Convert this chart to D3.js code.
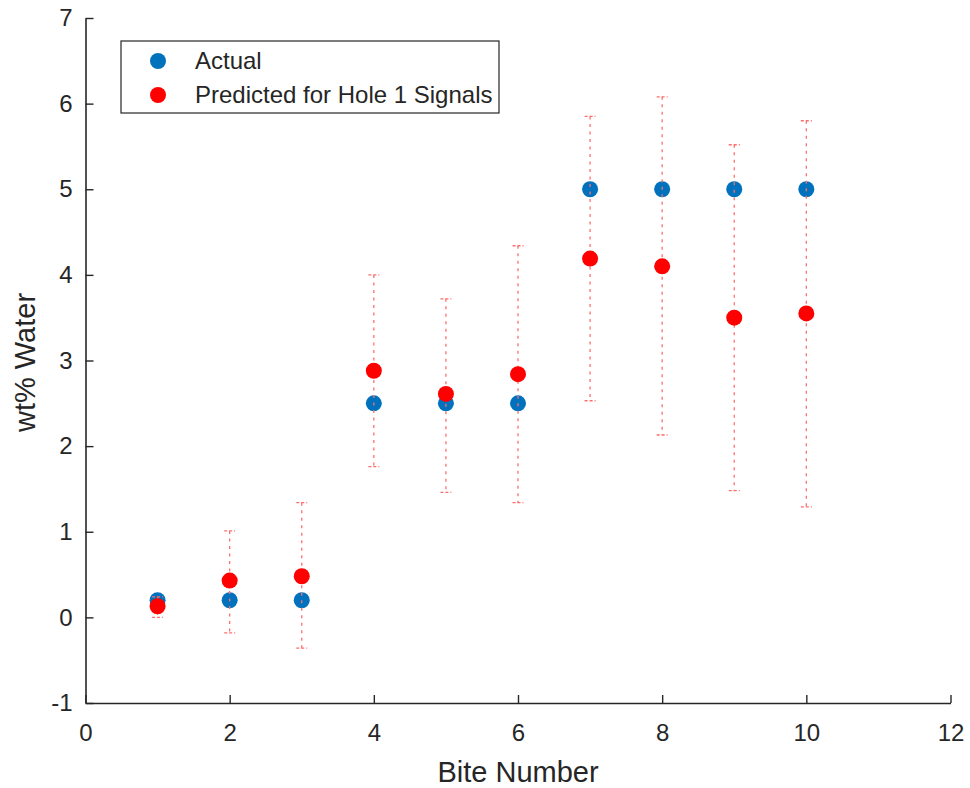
<!DOCTYPE html>
<html>
<head>
<meta charset="utf-8">
<script src="https://cdn.jsdelivr.net/npm/d3@7"></script>
<style>
  html, body { margin: 0; padding: 0; background: #fff; }
  svg { display: block; font-family: "Liberation Sans", Arial, Helvetica, sans-serif; }
</style>
</head>
<body>
<svg id="chart" width="970" height="788"></svg>
<script>
// Bite numbers and measured / predicted water content
const bites = [1, 2, 3, 4, 5, 6, 7, 8, 9, 10];
const actual = [0.2, 0.2, 0.2, 2.5, 2.5, 2.5, 5, 5, 5, 5];
const predicted = [0.13, 0.43, 0.48, 2.88, 2.61, 2.84, 4.19, 4.10, 3.50, 3.55];
const predLower = [0.0, -0.18, -0.36, 1.76, 1.46, 1.34, 2.53, 2.13, 1.48, 1.29];
const predUpper = [0.24, 1.01, 1.34, 4.0, 3.72, 4.34, 5.85, 6.08, 5.52, 5.80];

const xTicks = [0, 2, 4, 6, 8, 10, 12];
const yTicks = [-1, 0, 1, 2, 3, 4, 5, 6, 7];
const seriesNames = ["Actual", "Predicted for Hole 1 Signals"];
const seriesColors = ["#0072BD", "#FF0000"];

const svg = d3.select("#chart");
const axisColor = "#262626";
const plainNumber = (d) => String(d);

const x = d3.scaleLinear().domain([0, 12]).range([85.5, 950.5]);
const y = d3.scaleLinear().domain([-1, 7]).range([703, 18]);

// Axes with inward ticks
const xAxis = svg.append("g")
  .attr("transform", `translate(0,${y(-1)})`)
  .call(d3.axisBottom(x).tickValues(xTicks).tickFormat(plainNumber)
    .tickSizeInner(-8).tickSizeOuter(0).tickPadding(21));
const yAxis = svg.append("g")
  .attr("transform", `translate(${x(0)},0)`)
  .call(d3.axisLeft(y).tickValues(yTicks).tickFormat(plainNumber)
    .tickSizeInner(-8).tickSizeOuter(0).tickPadding(13));

[xAxis, yAxis].forEach(a => {
  a.select(".domain").attr("stroke", axisColor).attr("stroke-width", 1.6);
  a.selectAll(".tick line").attr("stroke", axisColor).attr("stroke-width", 1.4);
  a.selectAll(".tick text").attr("fill", axisColor).style("font-size", "24px");
});
xAxis.selectAll(".tick text").attr("dy", "0.71em");

// Axis titles
svg.append("text")
  .attr("x", (x(0) + x(12)) / 2).attr("y", 782)
  .attr("text-anchor", "middle").attr("fill", axisColor)
  .style("font-size", "29px").text("Bite Number");
svg.append("text")
  .attr("transform", `translate(35,${(y(-1) + y(7)) / 2 + 2}) rotate(-90)`)
  .attr("text-anchor", "middle").attr("fill", axisColor)
  .style("font-size", "29px").text("wt% Water");

// Actual values
svg.append("g").selectAll("circle")
  .data(bites)
  .join("circle")
  .attr("cx", (d) => x(d))
  .attr("cy", (d, i) => y(actual[i]))
  .attr("r", 8)
  .attr("fill", seriesColors[0]);

// Error bars on predicted values (dotted)
const capHalf = 5.5;
const eb = svg.append("g")
  .attr("stroke", "#ff6e6e")
  .attr("stroke-width", 1.3)
  .attr("stroke-dasharray", "3,4.5")
  .attr("fill", "none");
bites.forEach((b, i) => {
  const cx = x(b);
  eb.append("line").attr("x1", cx).attr("x2", cx).attr("y1", y(predUpper[i])).attr("y2", y(predLower[i]));
  eb.append("line").attr("x1", cx - capHalf).attr("x2", cx + capHalf).attr("y1", y(predUpper[i])).attr("y2", y(predUpper[i])).attr("stroke-dasharray", "3,2");
  eb.append("line").attr("x1", cx - capHalf).attr("x2", cx + capHalf).attr("y1", y(predLower[i])).attr("y2", y(predLower[i])).attr("stroke-dasharray", "3,2");
});

// Predicted values
svg.append("g").selectAll("circle")
  .data(bites)
  .join("circle")
  .attr("cx", (d) => x(d))
  .attr("cy", (d, i) => y(predicted[i]))
  .attr("r", 8)
  .attr("fill", seriesColors[1]);

// Legend
const legend = svg.append("g");
legend.append("rect")
  .attr("x", 121).attr("y", 41).attr("width", 378).attr("height", 72)
  .attr("fill", "#fff").attr("stroke", axisColor).attr("stroke-width", 1.2);
seriesNames.forEach((name, i) => {
  const ly = 61 + i * 34;
  legend.append("circle").attr("cx", 158).attr("cy", ly).attr("r", 8).attr("fill", seriesColors[i]);
  legend.append("text").attr("x", 195).attr("y", ly).attr("dy", "0.35em")
    .attr("fill", axisColor).style("font-size", "24px").text(name);
});
</script>
</body>
</html>
